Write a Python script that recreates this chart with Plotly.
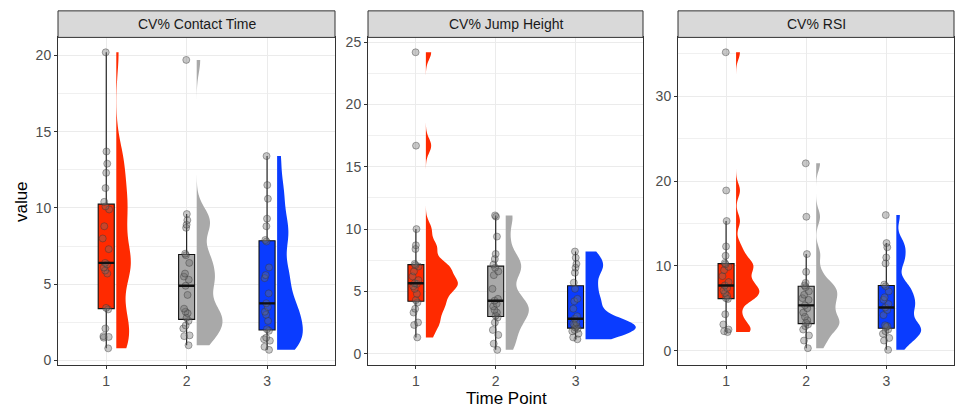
import numpy as np
import plotly.graph_objects as go

# ---------------- data ----------------
time_points = [1, 2, 3]
tick_labels = ["1", "2", "3"]
panel_titles = ["CV% Contact Time", "CV% Jump Height", "CV% RSI"]

contact_t1 = [0.8, 1.5, 1.55, 1.6, 2.1, 3.35, 3.45, 5.7, 5.9, 6.1, 6.3, 6.4,
              7.3, 8.0, 8.8, 9.9, 10.1, 10.4, 11.3, 12.3, 12.9, 13.7, 20.2]
contact_t2 = [1.0, 1.6, 1.65, 2.1, 2.3, 2.6, 2.8, 3.1, 3.2, 3.4, 4.3, 4.9,
              5.3, 5.5, 5.7, 6.4, 6.9, 7.0, 8.7, 8.9, 9.2, 9.6, 19.7]
contact_t3 = [0.7, 0.9, 1.3, 1.4, 1.5, 1.95, 2.05, 2.6, 3.0, 3.2, 3.5, 3.75,
              4.4, 5.4, 5.6, 6.1, 7.8, 7.9, 8.8, 9.3, 10.6, 11.5, 13.4]

jump_t1 = [1.3, 2.3, 2.5, 3.3, 3.6, 4.1, 4.3, 4.8, 5.2, 5.4, 5.6, 5.65,
           5.9, 6.2, 6.6, 7.0, 7.1, 7.2, 8.4, 8.7, 10.0, 16.7, 24.2]
jump_t2 = [0.3, 0.8, 1.5, 1.9, 2.5, 2.9, 3.05, 3.3, 3.5, 3.8, 4.0, 4.25,
           4.4, 5.2, 6.3, 6.6, 6.9, 7.15, 7.6, 8.0, 9.4, 11.0, 11.1]
jump_t3 = [1.15, 1.3, 1.6, 1.8, 1.9, 2.0, 2.1, 2.2, 2.3, 2.4, 2.5, 2.8,
           3.0, 3.6, 4.2, 4.4, 5.2, 5.7, 6.5, 6.9, 7.2, 7.7, 8.2]

rsi_t1 = [2.2, 2.3, 2.5, 3.1, 4.3, 6.1, 6.2, 6.5, 6.8, 7.1, 7.4, 7.7,
          8.1, 8.8, 9.5, 9.9, 10.2, 10.35, 11.2, 12.3, 15.3, 18.9, 35.2]
rsi_t2 = [0.3, 1.2, 1.8, 2.5, 2.9, 3.1, 3.3, 3.6, 4.0, 4.5, 5.0, 5.35,
          6.0, 6.2, 6.6, 7.0, 7.5, 7.7, 8.0, 9.3, 11.4, 15.8, 22.1]
rsi_t3 = [0.1, 1.2, 1.5, 2.0, 2.3, 2.5, 2.8, 2.9, 3.0, 4.2, 4.8, 5.1,
          5.5, 6.0, 6.3, 7.0, 7.6, 7.8, 10.3, 11.0, 12.2, 12.7, 16.0]

panels = [
    [contact_t1, contact_t2, contact_t3],
    [jump_t1, jump_t2, jump_t3],
    [rsi_t1, rsi_t2, rsi_t3],
]

# ---------------- style ----------------
colors = ["#ff2a00", "#a9a9a9", "#0a3cff"]
violin_width = [[0.36, 0.64, 0.64], [0.80, 0.58, 1.26], [0.58, 0.58, 0.62]]
violin_nudge = 0.125
bw_adjust = 0.55
box_width = 0.2
y_dtick = [5, 5, 10]
x_domains = [(58 / 956, 335 / 956), (368 / 956, 643 / 956), (678 / 956, 954 / 956)]
y_domain = (1 - 368 / 412, 1 - 35 / 412)
strip_top = 1 - 8 / 412
font_family = "Liberation Sans, Arial, sans-serif"


def nrd0(v):
    v = np.asarray(v, dtype=float)
    sd = v.std(ddof=1)
    q75, q25 = np.percentile(v, [75, 25])
    lo = min(sd, (q75 - q25) / 1.34)
    return 0.9 * lo * len(v) ** -0.2


fig = go.Figure()

for p, groups in enumerate(panels):
    xa = "x" if p == 0 else f"x{p + 1}"
    ya = "y" if p == 0 else f"y{p + 1}"
    for g, vals in enumerate(groups):
        tp = time_points[g]
        fig.add_trace(go.Violin(
            x=[tp + violin_nudge] * len(vals), y=vals, orientation="v",
            side="positive", width=violin_width[p][g], scalemode="width",
            spanmode="hard", bandwidth=nrd0(vals) * bw_adjust, points=False,
            fillcolor=colors[g], line=dict(color=colors[g], width=0),
            opacity=1, xaxis=xa, yaxis=ya, showlegend=False, hoverinfo="skip",
        ))
        fig.add_trace(go.Box(
            x=[tp] * len(vals), y=vals, orientation="v", width=box_width,
            quartilemethod="inclusive", boxpoints="all", jitter=0.5, pointpos=0,
            fillcolor=colors[g], line=dict(color="#111111", width=1.1),
            whiskerwidth=0,
            marker=dict(size=7, color="rgba(110,110,110,0.38)",
                        line=dict(color="rgba(50,50,50,0.4)", width=1)),
            xaxis=xa, yaxis=ya, showlegend=False, hoverinfo="skip",
        ))
        med = float(np.median(vals))
        fig.add_trace(go.Scatter(
            x=[tp - box_width / 2, tp + box_width / 2], y=[med, med],
            mode="lines", line=dict(color="#111111", width=2.4),
            xaxis=xa, yaxis=ya, showlegend=False, hoverinfo="skip",
        ))

axis_common = dict(
    showline=True, mirror=True, linecolor="#333333", linewidth=1,
    ticks="outside", ticklen=3, tickcolor="#333333", tickwidth=1,
    gridcolor="#ebebeb", gridwidth=1, zeroline=False,
    tickfont=dict(family=font_family, size=14, color="#4d4d4d"),
)

layout = dict(
    width=956, height=412,
    margin=dict(l=0, r=0, t=0, b=0, pad=0),
    paper_bgcolor="white", plot_bgcolor="white",
    boxmode="overlay", violinmode="overlay",
    font=dict(family=font_family),
    showlegend=False,
)

shapes = []
annotations = []
for p, groups in enumerate(panels):
    allv = np.concatenate([np.asarray(v, dtype=float) for v in groups])
    lo, hi = allv.min(), allv.max()
    pad = 0.05 * (hi - lo)
    xkey = "xaxis" if p == 0 else f"xaxis{p + 1}"
    ykey = "yaxis" if p == 0 else f"yaxis{p + 1}"
    ya_name = "y" if p == 0 else f"y{p + 1}"
    xa_name = "x" if p == 0 else f"x{p + 1}"
    layout[xkey] = dict(
        axis_common, domain=list(x_domains[p]), anchor=ya_name,
        range=[0.4, 3.845], tickmode="array", tickvals=time_points,
        ticktext=tick_labels,
    )
    layout[ykey] = dict(
        axis_common, domain=list(y_domain), anchor=xa_name,
        range=[lo - pad, hi + pad], dtick=y_dtick[p], tick0=0,
        minor=dict(showgrid=True, dtick=y_dtick[p] / 2, gridcolor="#f0f0f0",
                   gridwidth=0.7, ticks=""),
    )
    shapes.append(dict(
        type="rect", xref="paper", yref="paper",
        x0=x_domains[p][0], x1=x_domains[p][1], y0=y_domain[1], y1=strip_top,
        fillcolor="#d9d9d9", line=dict(color="#333333", width=1),
    ))
    annotations.append(dict(
        text=panel_titles[p], xref="paper", yref="paper",
        x=(x_domains[p][0] + x_domains[p][1]) / 2,
        y=(y_domain[1] + strip_top) / 2, showarrow=False,
        xanchor="center", yanchor="middle",
        font=dict(family=font_family, size=14, color="#1a1a1a"),
    ))

annotations.append(dict(
    text="Time Point", xref="paper", yref="paper", x=506 / 956, y=1 - 402 / 412,
    showarrow=False, xanchor="center", yanchor="middle",
    font=dict(family=font_family, size=17, color="black"),
))
annotations.append(dict(
    text="value", xref="paper", yref="paper", x=21.5 / 956, y=1 - 202 / 412,
    showarrow=False, xanchor="center", yanchor="middle", textangle=-90,
    font=dict(family=font_family, size=17, color="black"),
))

layout["shapes"] = shapes
layout["annotations"] = annotations
fig.update_layout(**layout)

fig.write_html(
    "out.html",
    config={"displayModeBar": False},
    post_script="document.body.style.margin='0';document.body.style.overflow='hidden';",
)
